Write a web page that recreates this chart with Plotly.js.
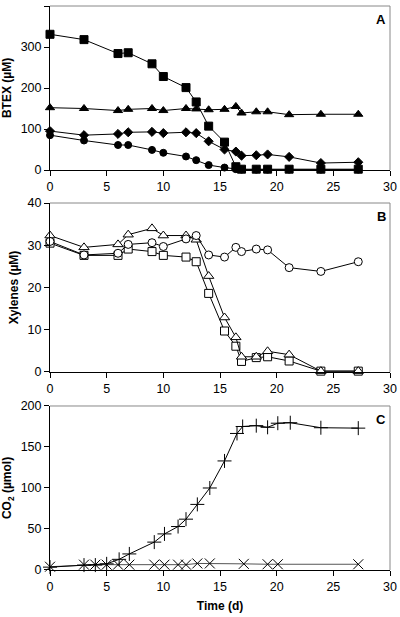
<!DOCTYPE html>
<html>
<head>
<meta charset="utf-8">
<script src="https://cdn.plot.ly/plotly-3.0.1.min.js"></script>
<style>html,body{margin:0;padding:0;background:#fff;}#chart{width:400px;height:617px;}</style>
</head>
<body>
<div id="chart"></div>
<script>
// Panel A: BTEX (µM)
var timeA = [0, 3, 6, 6.9, 9, 10, 12, 12.9, 14, 15.4, 16.4, 16.9, 18.2, 19.2, 21.1, 23.9, 27.2];
var squaresA = [331, 318, 284, 286, 259, 228, 201, 166, 107, 68, 8, 2, 2, 2, 2, 2, 2];
var trianglesA = [152, 150, 145, 148, 150, 145, 150, 149, 147, 148, 155, 139, 142, 142, 135, 136, 136];
var diamondsA = [95, 85, 88, 92, 93, 90, 92, 90, 70, 50, 45, 35, 36, 38, 32, 17, 19];
var circlesA = [85, 72, 61, 61, 49, 42, 33, 24, 12, 6, 2, 1, 1, 1, 1, 1, 1];

// Panel B: Xylenes (µM)
var timeB = [0, 3, 6, 6.9, 9, 10, 12, 12.9, 14, 15.4, 16.4, 16.9, 18.2, 19.2, 21.1, 23.9, 27.2];
var trianglesB = [32.3, 29.5, 30.2, 32.5, 34.0, 32.3, 32.3, 31.3, 22.7, 12.9, 8.2, 3.6, 3.6, 4.9, 4.1, 0.2, 0.2];
var circlesB = [30.9, 27.7, 28.1, 30.2, 30.6, 29.7, 31.5, 32.3, 27.7, 27.2, 29.5, 28.5, 29.1, 28.9, 24.7, 23.8, 26.1];
var squaresB = [30.5, 27.6, 27.6, 29.1, 28.5, 27.6, 27.2, 26.1, 18.6, 9.7, 6.1, 2.5, 3.4, 3.6, 2.6, 0.2, 0.2];

// Panel C: CO2 (µmol)
var timePlus = [0, 3, 4, 5, 6.1, 7, 9.2, 10.1, 11.3, 12, 13, 14.1, 15.4, 16.5, 17, 18.2, 19.2, 20.1, 21.2, 23.9, 27.2];
var plusC = [3.5, 6, 6, 7.5, 13, 19.6, 34, 44, 53, 62, 80, 100, 133, 166.5, 175, 176, 174, 179, 179.6, 173.5, 173];
var timeCross = [0, 3, 4, 5, 6, 7, 9.2, 10.1, 11.3, 12, 13, 14.1, 17.1, 19.2, 20.1, 27.2];
var crossC = [4, 6.5, 6.5, 6.5, 6.5, 6.5, 6.5, 6.5, 6.5, 6.5, 8, 8, 7.5, 7, 7, 7];

var xTicks = [0, 5, 10, 15, 20, 25, 30];

function tr(x, y, xa, ya, sym, size, fill, lineColor) {
  return {
    x: x, y: y, xaxis: xa, yaxis: ya, type: 'scatter', mode: 'lines+markers',
    line: {color: lineColor || '#000', width: 1},
    marker: {symbol: sym, size: size, color: fill, line: {color: '#000', width: 1}},
    cliponaxis: false, showlegend: false, hoverinfo: 'skip'
  };
}

var data = [
  tr(timeA, circlesA, 'x', 'y', 'circle', 7, '#000'),
  tr(timeA, diamondsA, 'x', 'y', 'diamond', 7, '#000'),
  tr(timeA, trianglesA, 'x', 'y', 'triangle-up', 8, '#000'),
  tr(timeA, squaresA, 'x', 'y', 'square', 8, '#000'),
  tr(timeB, squaresB, 'x2', 'y2', 'square', 8, '#fff'),
  tr(timeB, trianglesB, 'x2', 'y2', 'triangle-up', 9, '#fff'),
  tr(timeB, circlesB, 'x2', 'y2', 'circle', 8, '#fff'),
  tr(timeCross, crossC, 'x3', 'y3', 'x-thin', 10, '#000', '#555'),
  tr(timePlus, plusC, 'x3', 'y3', 'cross-thin', 10, '#000')
];

var tickFont = {family: 'Liberation Sans, Arial, sans-serif', size: 12.5, color: '#000'};
var titleFont = {family: 'Liberation Sans, Arial, sans-serif', size: 12, color: '#000', weight: 'bold'};

function xax(anchor, title) {
  var o = {
    anchor: anchor, domain: [0, 1], range: [0, 30], tickvals: xTicks, ticktext: xTicks.map(String),
    showgrid: false, zeroline: false, showline: true, linecolor: '#000', linewidth: 1,
    mirror: false, ticks: 'outside', ticklen: 5, tickcolor: '#000', tickfont: tickFont
  };
  if (title) o.title = {text: title, font: titleFont, standoff: 8};
  return o;
}
function yax(anchor, dom, range, dtick, title) {
  return {
    anchor: anchor, domain: dom, range: range, dtick: dtick, tick0: 0,
    showgrid: false, zeroline: false, showline: true, linecolor: '#000', linewidth: 1,
    ticks: 'outside', ticklen: 5, tickcolor: '#000', tickfont: tickFont,
    title: {text: title, font: titleFont, standoff: 6}
  };
}

var domA = [0.7092, 1], domB = [0.3511, 0.6507], domC = [0, 0.2908];

var shapes = [];
[['x', 'y'], ['x2', 'y2'], ['x3', 'y3']].forEach(function (p) {
  shapes.push({type: 'line', xref: p[0] + ' domain', yref: p[1] + ' domain', x0: 0, x1: 1, y0: 1, y1: 1, line: {color: '#888', width: 1}});
  shapes.push({type: 'line', xref: p[0] + ' domain', yref: p[1] + ' domain', x0: 1, x1: 1, y0: 0, y1: 1, line: {color: '#888', width: 1}});
});

var annFont = {family: 'Liberation Sans, Arial, sans-serif', size: 13, color: '#000', weight: 'bold'};
var annotations = [
  {text: 'A', xref: 'x domain', yref: 'y domain', x: 0.995, y: 0.92, xanchor: 'right', yanchor: 'middle', showarrow: false, font: annFont},
  {text: 'B', xref: 'x2 domain', yref: 'y2 domain', x: 0.995, y: 0.92, xanchor: 'right', yanchor: 'middle', showarrow: false, font: annFont},
  {text: 'C', xref: 'x3 domain', yref: 'y3 domain', x: 0.995, y: 0.92, xanchor: 'right', yanchor: 'middle', showarrow: false, font: annFont}
];

var layout = {
  width: 400, height: 617,
  margin: {l: 50, r: 10, t: 6, b: 47},
  paper_bgcolor: '#fff', plot_bgcolor: '#fff',
  showlegend: false,
  xaxis: xax('y'),
  xaxis2: xax('y2'),
  xaxis3: xax('y3', 'Time (d)'),
  yaxis: yax('x', domA, [0, 400], 100, 'BTEX (µM)'),
  yaxis2: yax('x2', domB, [0, 40], 10, 'Xylenes (µM)'),
  yaxis3: yax('x3', domC, [0, 200], 50, 'CO<sub>2</sub> (µmol)'),
  shapes: shapes,
  annotations: annotations
};

Plotly.newPlot('chart', data, layout, {staticPlot: true, displayModeBar: false});
</script>
</body>
</html>
